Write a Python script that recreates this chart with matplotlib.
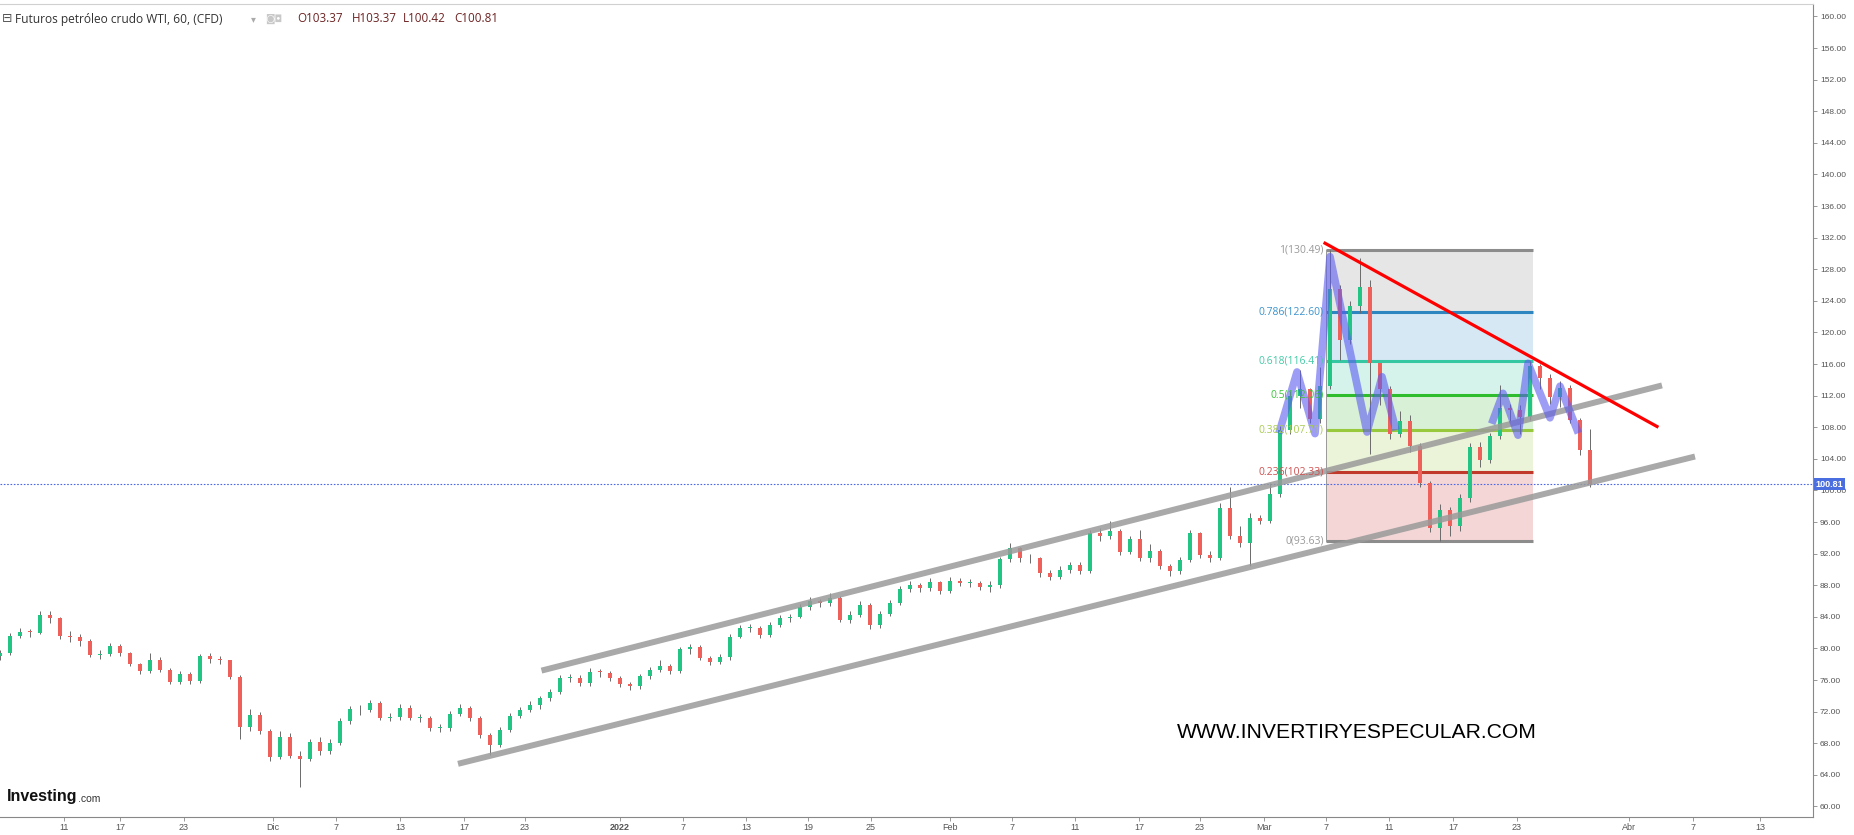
"""WTI crude futures, 60 min chart with channel, fib levels and trend line."""

import numpy as np
import matplotlib
matplotlib.use('Agg')
import matplotlib.pyplot as plt

# ---- data (one candle every ~10 px) ----
first_open = 79.0
closes = [
    79.4, 81.6, 82.1, 82.0, 84.2, 83.8, 81.6, 81.4, 80.9, 79.2,
    79.3, 80.3, 79.4, 78.0, 77.1, 78.6, 77.3, 75.8, 76.8, 75.9,
    79.0, 78.7, 78.5, 76.4, 70.0, 71.6, 69.6, 66.3, 68.8, 66.4,
    66.0, 68.2, 67.0, 68.0, 70.8, 72.3, 72.2, 73.1, 71.2, 71.3,
    72.5, 71.2, 71.2, 69.9, 69.9, 71.7, 72.5, 71.2, 69.0, 67.8,
    69.7, 71.5, 72.2, 72.8, 73.7, 74.5, 76.3, 76.3, 75.6, 77.0,
    76.9, 76.3, 75.5, 75.2, 76.5, 77.3, 77.8, 77.1, 79.9, 80.2,
    78.8, 78.3, 78.9, 81.5, 82.6, 82.6, 81.7, 83.0, 83.8, 84.0,
    85.2, 86.0, 85.7, 86.4, 83.6, 84.2, 85.5, 83.0, 84.4, 85.8,
    87.5, 88.0, 87.6, 88.4, 87.3, 88.5, 88.3, 88.3, 87.8, 88.0,
    91.3, 92.7, 91.4, 91.4, 89.5, 89.1, 89.9, 90.6, 89.8, 94.6,
    94.2, 94.9, 92.2, 93.8, 91.5, 92.4, 90.4, 89.8, 91.2, 94.6,
    91.8, 91.5, 97.8, 94.2, 93.3, 96.5, 96.2, 99.5, 107.7, 112.0,
    112.8, 109.0, 113.2, 125.5, 119.0, 123.3, 125.8, 116.1, 112.8, 107.2,
    108.8, 105.6, 100.9, 95.3, 97.5, 95.5, 99.0, 105.5, 103.8, 106.9,
    110.5, 110.2, 109.3, 115.8, 114.2, 111.8, 113.0, 108.9, 105.1, 100.81,
]
highs = [
    79.8, 81.9, 82.6, 82.5, 84.8, 84.7, 84.0, 82.2, 81.8, 81.2,
    79.8, 80.7, 80.6, 79.6, 78.2, 79.4, 78.9, 77.5, 77.2, 77.0,
    79.3, 79.4, 79.0, 78.6, 76.6, 72.3, 72.0, 69.8, 69.5, 69.3,
    67.0, 68.6, 68.8, 68.5, 71.2, 72.7, 72.9, 73.5, 73.3, 71.8,
    73.0, 72.8, 71.7, 71.4, 70.4, 72.1, 73.0, 72.7, 71.4, 69.3,
    70.0, 71.8, 72.6, 73.3, 74.0, 74.9, 76.7, 76.8, 76.6, 77.5,
    77.4, 77.2, 76.5, 75.8, 76.8, 77.6, 78.6, 78.0, 80.2, 80.6,
    80.4, 79.0, 79.3, 81.8, 83.0, 83.1, 82.8, 83.4, 84.3, 84.4,
    85.6, 86.5, 86.3, 87.0, 86.6, 84.7, 86.0, 85.8, 84.8, 86.1,
    87.9, 88.6, 88.3, 88.9, 88.6, 89.0, 88.9, 88.8, 88.6, 88.5,
    91.6, 93.4, 92.9, 91.9, 91.6, 89.9, 90.4, 91.0, 91.0, 95.0,
    95.3, 96.2, 95.1, 94.2, 95.0, 93.2, 92.6, 90.7, 91.6, 95.0,
    94.8, 92.4, 98.4, 100.5, 95.5, 97.1, 96.9, 101.0, 108.2, 112.6,
    115.3, 113.0, 115.6, 130.49, 126.0, 124.0, 129.4, 126.6, 114.6, 113.2,
    110.0, 109.5, 106.0, 101.2, 98.3, 97.9, 99.5, 106.0, 106.2, 107.3,
    113.3, 111.0, 110.8, 116.4, 116.0, 114.8, 113.9, 113.3, 109.2, 107.8,
]
lows = [
    78.6, 79.2, 81.3, 81.5, 81.8, 83.2, 81.2, 80.8, 80.3, 78.9,
    78.7, 79.0, 79.0, 77.8, 76.8, 76.9, 77.0, 75.5, 75.5, 75.5,
    75.6, 78.2, 78.0, 76.1, 68.5, 69.6, 69.2, 65.8, 66.0, 66.1,
    62.5, 65.7, 66.5, 66.6, 67.8, 70.5, 71.6, 71.9, 70.9, 70.8,
    71.0, 70.9, 70.7, 69.5, 69.4, 69.6, 71.4, 70.8, 68.7, 66.5,
    67.5, 69.4, 71.2, 72.0, 72.4, 73.3, 74.2, 75.8, 75.2, 75.3,
    76.4, 75.9, 75.1, 74.8, 74.9, 76.2, 77.0, 76.8, 76.9, 79.3,
    78.5, 77.9, 78.0, 78.6, 81.3, 82.1, 81.3, 81.4, 82.7, 83.3,
    83.8, 84.9, 85.3, 85.4, 83.3, 83.2, 84.0, 82.5, 82.6, 84.1,
    85.5, 87.1, 87.2, 87.3, 86.9, 87.0, 87.9, 87.8, 87.4, 87.2,
    87.7, 91.0, 91.0, 90.8, 89.1, 88.7, 88.8, 89.6, 89.4, 89.5,
    93.6, 93.8, 91.8, 91.9, 91.1, 91.0, 90.0, 89.2, 89.4, 90.9,
    91.4, 90.9, 91.2, 93.9, 92.8, 90.4, 95.7, 95.9, 99.2, 107.2,
    110.5, 108.6, 108.5, 112.8, 116.5, 118.5, 122.5, 104.6, 110.8, 106.5,
    106.8, 104.9, 100.5, 94.8, 93.63, 94.2, 94.9, 98.6, 103.0, 103.5,
    106.5, 108.6, 107.1, 108.9, 112.8, 110.9, 110.6, 108.5, 104.5, 100.42,
]

tick_pos = [6.4, 12.0, 18.4, 27.3, 33.6, 40.0, 46.4, 52.5, 62.0, 68.3,
            74.6, 80.8, 87.1, 95.0, 101.2, 107.5, 113.9, 120.0, 126.4,
            132.6, 138.9, 145.3, 151.7, 162.9, 169.3, 176.0]
tick_labels = ['11', '17', '23', 'Dic', '7', '13', '17', '23', '2022', '7',
               '13', '19', '25', 'Feb', '7', '11', '17', '23', 'Mar',
               '7', '11', '17', '23', 'Abr', '7', '13']

# fibonacci retracement
fib_high = 130.49
fib_low = 93.63
fib_ratios = [1, 0.786, 0.618, 0.5, 0.382, 0.236, 0]
fib_x = [132.6, 153.3]

# drawings
channel_low = ([45.8, 169.5], [65.4, 104.3])
channel_up = ([54.15, 166.2], [77.2, 113.3])
red_trend = ([132.5, 165.7], [131.3, 108.1])
zigzag_1 = ([128.0, 129.7, 131.5, 133.0, 136.7, 138.2, 139.5],
            [107.7, 115.0, 107.2, 129.6, 107.4, 114.4, 108.1])
zigzag_2 = ([149.3, 150.3, 151.8, 152.8, 155.0, 156.0, 157.7],
            [108.9, 112.3, 107.0, 116.1, 109.2, 113.2, 107.7])
last_price = 100.81

W, H = 1854, 835


def fx(px):
    return px / W


def fy(py):
    return 1 - py / H


fig = plt.figure(figsize=(W / 100, H / 100), dpi=100)
ax = fig.add_axes([0, fy(817), fx(1813), (817 - 4) / H])

# candles
opens = [first_open] + closes[:-1]
x = np.arange(len(closes))
up_col, dn_col = '#22c583', '#f0605a'
cols = [up_col if c >= o else dn_col for o, c in zip(opens, closes)]
ax.vlines(x, lows, highs, color='#6a6a6a', lw=0.7, zorder=3)
heights = [c - o if abs(c - o) > 0.1 else 0.1 for o, c in zip(opens, closes)]
ax.bar(x, heights, bottom=opens, width=0.32, color=cols, zorder=3.5,
       linewidth=0)

# fib levels and fills
fib_line_cols = ['#8c8c8c', '#2e86c1', '#35c6a2', '#2dbd2d', '#98c93c',
                 '#c0392b', '#8c8c8c']
fib_text_cols = ['#999999', '#3a93cc', '#45c9a6', '#3cc43c', '#a8cc50',
                 '#d05050', '#999999']
fib_fill_cols = ['#e6e6e6', '#d5e8f4', '#d6f3eb', '#d8f0d5', '#ebf3d9',
                 '#f4d6d6']
levels = [fib_low + r * (fib_high - fib_low) for r in fib_ratios]
for i in range(len(levels) - 1):
    ax.fill_between(fib_x, levels[i + 1], levels[i], color=fib_fill_cols[i],
                    lw=0, zorder=1)
for r, lv, lc, tc in zip(fib_ratios, levels, fib_line_cols, fib_text_cols):
    ax.plot(fib_x, [lv, lv], color=lc, lw=2.2, zorder=2,
            solid_capstyle='butt')
    ax.text(fib_x[0] - 0.25, lv, '{:g}({:.2f})'.format(r, lv), color=tc,
            fontsize=7.5, ha='right', va='center', family='Open Sans',
            zorder=6)
ax.plot([fib_x[0], fib_x[0]], [levels[-1], levels[0]], color='#9a9a9a',
        lw=0.7, zorder=2)

# channel, trend line and zigzag
for xs, ys in (channel_low, channel_up):
    ax.plot(xs, ys, color='#9a9a9a', lw=4.3, alpha=0.85, zorder=4,
            solid_capstyle='butt')
for xs, ys in (zigzag_1, zigzag_2):
    ax.plot(xs, ys, color='#5c5cf0', lw=5.5, alpha=0.6, zorder=5,
            solid_joinstyle='round')
ax.plot(*red_trend, color='#ff0000', lw=2.3, zorder=6)

# last price line and label
ax.axhline(last_price, color='#4a68e8', lw=0.8, ls=(0, (1.5, 1.5)), zorder=2)
ax.annotate('{:.2f}'.format(last_price), xy=(1.0, last_price),
            xycoords=('axes fraction', 'data'), xytext=(2, 0),
            textcoords='offset points', ha='left', va='center', fontsize=6.5,
            color='white', fontweight='bold', family='Liberation Sans',
            annotation_clip=False, zorder=10,
            bbox=dict(boxstyle='square,pad=0.2', fc='#4a6ee0', ec='none'))

# axes
ax.set_xlim(0, 181.3)
ax.set_ylim(58.67, 161.58)
ax.yaxis.tick_right()
ax.set_yticks(np.arange(60, 161, 4))
ax.set_yticklabels(['{:.2f}'.format(v) for v in np.arange(60, 161, 4)],
                   family='Liberation Sans', fontsize=6, color='#555555')
ax.set_xticks(tick_pos)
ax.set_xticklabels(tick_labels, family='Liberation Sans', fontsize=6.5,
                   color='#555555')
for lbl in ax.get_xticklabels():
    if lbl.get_text() == '2022':
        lbl.set_fontweight('bold')
ax.tick_params(axis='y', length=3, width=0.6, color='#888888', pad=2)
ax.tick_params(axis='x', length=3, width=0.6, color='#888888', pad=1)
ax.spines['left'].set_visible(False)
ax.spines['top'].set_color('#d0d0d0')
ax.spines['right'].set_color('#888888')
ax.spines['bottom'].set_color('#888888')

# header
hdr_font = ['Open Sans', 'DejaVu Sans']
fig.text(fx(2), fy(19), '⊟', fontsize=9, color='#555555', va='center',
         family=['DejaVu Sans'])
fig.text(fx(15), fy(19), 'Futuros petróleo crudo WTI, 60, (CFD)',
         fontsize=8.6, color='#333333', va='center', family=hdr_font)
fig.text(fx(251), fy(19), '▾', fontsize=7, color='#aaaaaa', va='center',
         family=['DejaVu Sans'])
fig.text(fx(265), fy(19), '◙◘', fontsize=7, color='#c8c8c8', va='center',
         family=['DejaVu Sans'])
ohlc = [('O', '103.37', 297), ('H', '103.37', 352), ('L', '100.42', 403),
        ('C', '100.81', 454)]
for letter, val, px in ohlc:
    fig.text(fx(px), fy(19), letter + val, fontsize=8.4, color='#6d2222',
             va='center', family=hdr_font)

# logos
fig.text(fx(7), fy(796), 'Investing', fontsize=11.5, fontweight='bold',
         color='#111111', va='center', family='Liberation Sans')
fig.text(fx(78), fy(799), '.com', fontsize=7.5, color='#333333',
         va='center', family='Liberation Sans')
fig.text(fx(1357), fy(732), 'WWW.INVERTIRYESPECULAR.COM', fontsize=15.2,
         color='black', ha='center', va='center', family='Liberation Sans')

fig.savefig('out.png', dpi=100)
